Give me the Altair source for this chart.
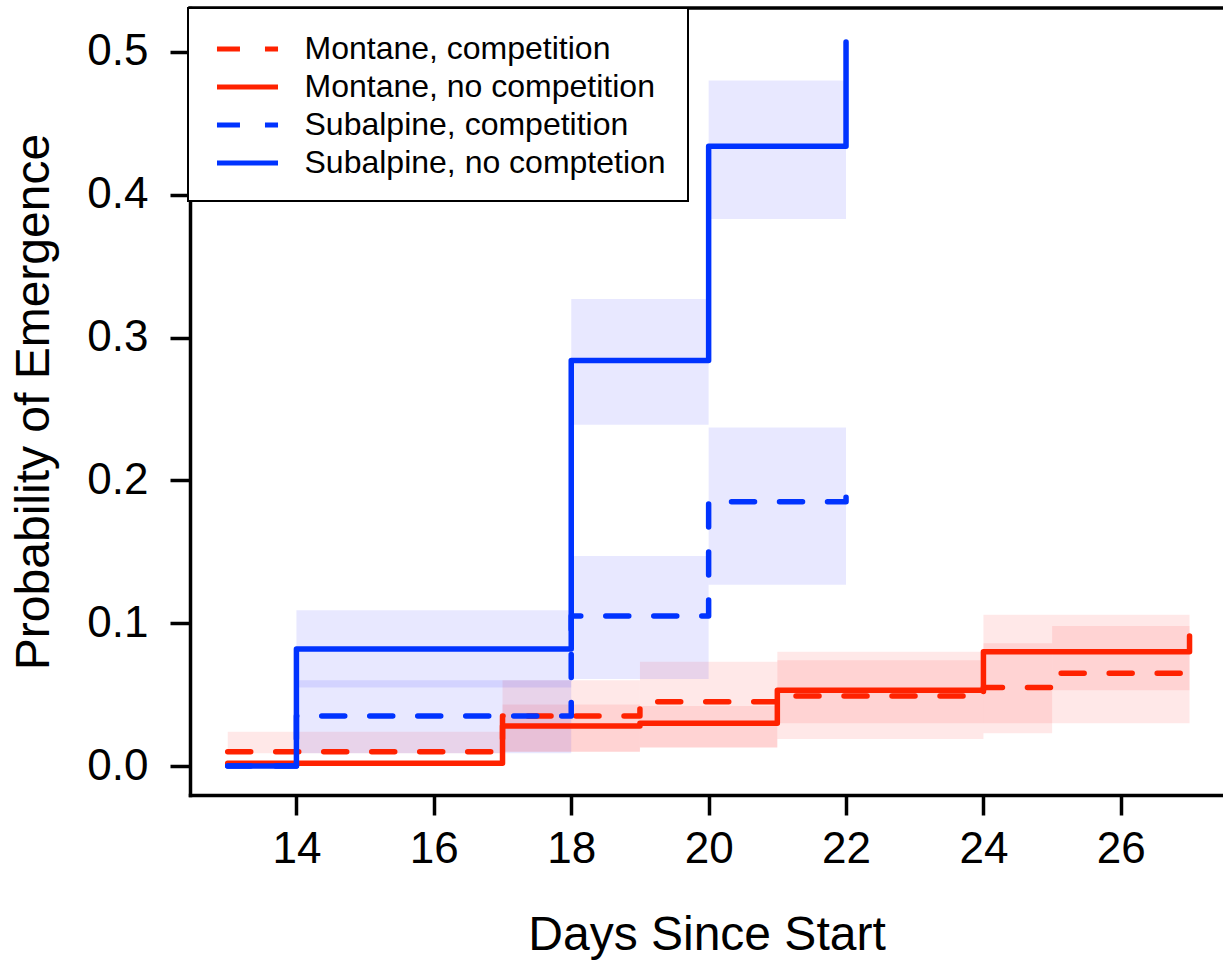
import altair as alt
import pandas as pd

FONT = "Liberation Sans"

series_names = [
    "Montane, competition",
    "Montane, no competition",
    "Subalpine, competition",
    "Subalpine, no comptetion",
]
series_sites = ["Montane", "Montane", "Subalpine", "Subalpine"]
line_colors = ["#ff2200", "#ff2200", "#0033ff", "#0033ff"]
line_dashes = [[23, 25], [1, 0], [23, 25], [1, 0]]
site_names = ["Montane", "Subalpine"]
band_colors = ["#ff0000", "#0000ff"]

# Step curves: day at which each step starts and the probability after it
montane_comp_days = [13, 17, 19, 21, 24, 25, 27]
montane_comp_prob = [0.010, 0.035, 0.045, 0.049, 0.055, 0.065, 0.067]
montane_nocomp_days = [13, 17, 19, 21, 24, 27]
montane_nocomp_prob = [0.002, 0.028, 0.030, 0.053, 0.080, 0.091]
subalpine_comp_days = [13, 14, 18, 20, 22]
subalpine_comp_prob = [0.0, 0.035, 0.105, 0.185, 0.195]
subalpine_nocomp_days = [13, 14, 18, 20, 22]
subalpine_nocomp_prob = [0.0, 0.082, 0.284, 0.434, 0.507]

# Confidence bands: interval start, interval end, lower and upper bound
montane_comp_band_start = [13, 17, 19, 21, 24, 25]
montane_comp_band_end = [17, 19, 21, 24, 25, 27]
montane_comp_band_lo = [0.009, 0.010, 0.013, 0.019, 0.023, 0.053]
montane_comp_band_hi = [0.024, 0.060, 0.073, 0.074, 0.086, 0.098]

montane_nocomp_band_start = [17, 19, 21, 24]
montane_nocomp_band_end = [19, 21, 24, 27]
montane_nocomp_band_lo = [0.010, 0.013, 0.030, 0.030]
montane_nocomp_band_hi = [0.043, 0.042, 0.080, 0.106]

subalpine_comp_band_start = [14, 18, 20]
subalpine_comp_band_end = [18, 20, 22]
subalpine_comp_band_lo = [0.009, 0.061, 0.127]
subalpine_comp_band_hi = [0.060, 0.147, 0.237]

subalpine_nocomp_band_start = [14, 18, 20]
subalpine_nocomp_band_end = [18, 20, 22]
subalpine_nocomp_band_lo = [0.055, 0.239, 0.383]
subalpine_nocomp_band_hi = [0.109, 0.327, 0.480]

x_ticks = [14, 16, 18, 20, 22, 24, 26]
y_ticks = [0.0, 0.1, 0.2, 0.3, 0.4, 0.5]
x_limits = [12.451, 27.487]
y_limits = [-0.0203, 0.5308]

curves = [
    (series_names[0], montane_comp_days, montane_comp_prob),
    (series_names[1], montane_nocomp_days, montane_nocomp_prob),
    (series_names[2], subalpine_comp_days, subalpine_comp_prob),
    (series_names[3], subalpine_nocomp_days, subalpine_nocomp_prob),
]
bands = [
    (series_sites[0], montane_comp_band_start, montane_comp_band_end,
     montane_comp_band_lo, montane_comp_band_hi),
    (series_sites[1], montane_nocomp_band_start, montane_nocomp_band_end,
     montane_nocomp_band_lo, montane_nocomp_band_hi),
    (series_sites[2], subalpine_comp_band_start, subalpine_comp_band_end,
     subalpine_comp_band_lo, subalpine_comp_band_hi),
    (series_sites[3], subalpine_nocomp_band_start, subalpine_nocomp_band_end,
     subalpine_nocomp_band_lo, subalpine_nocomp_band_hi),
]

line_rows = []
for name, days, probs in curves:
    for d, p in zip(days, probs):
        line_rows.append({"series": name, "day": d, "prob": p})
line_df = pd.DataFrame(line_rows)

band_rows = []
for site, starts, ends, los, his in bands:
    for s, e, lo, hi in zip(starts, ends, los, his):
        band_rows.append({"site": site, "start": s, "end": e, "lo": lo, "hi": hi})
band_df = pd.DataFrame(band_rows)

x_scale = alt.Scale(domain=x_limits, nice=False, zero=False)
y_scale = alt.Scale(domain=y_limits, nice=False, zero=False)

axis_common = dict(
    grid=False,
    domainColor="black",
    domainWidth=3.5,
    domainCap="square",
    tickColor="black",
    tickWidth=3.5,
    tickSize=20,
    labelFont=FONT,
    labelColor="black",
    titleFont=FONT,
    titleColor="black",
    titleFontWeight="normal",
    labelFlush=False,
    labelOverlap=False,
)

x_axis = alt.Axis(
    values=x_ticks,
    format="d",
    labelFontSize=44,
    labelPadding=12,
    title="Days Since Start",
    titleFontSize=48,
    titlePadding=40,
    **axis_common,
)
y_axis = alt.Axis(
    values=y_ticks,
    format=".1f",
    labelFontSize=44,
    labelPadding=22,
    title="Probability of Emergence",
    titleFontSize=48,
    titlePadding=28,
    **axis_common,
)

legend_kw = dict(
    title=None,
    orient="none",
    legendX=-2,
    legendY=0,
    symbolType="M-1.85,0H1.85",
    symbolSize=1089,
    symbolStrokeWidth=5,
    symbolOffset=18.5,
    labelOffset=38,
    labelFontSize=32,
    labelFont=FONT,
    labelColor="black",
    labelLimit=600,
    padding=22,
    rowPadding=3,
    strokeColor="black",
    fillColor="white",
    cornerRadius=0,
)

band_layer = alt.Chart(band_df).mark_rect(opacity=0.09).encode(
    x=alt.X("start:Q", scale=x_scale, axis=x_axis),
    x2="end:Q",
    y=alt.Y("lo:Q", scale=y_scale, axis=y_axis),
    y2="hi:Q",
    fill=alt.Fill(
        "site:N",
        scale=alt.Scale(domain=site_names, range=band_colors),
        legend=None,
    ),
)

line_layer = alt.Chart(line_df).mark_line(
    interpolate="step-after",
    strokeWidth=5.5,
    strokeCap="round",
    strokeJoin="round",
).encode(
    x=alt.X("day:Q", scale=x_scale, axis=x_axis),
    y=alt.Y("prob:Q", scale=y_scale, axis=y_axis),
    color=alt.Color(
        "series:N",
        scale=alt.Scale(domain=series_names, range=line_colors),
        legend=alt.Legend(**legend_kw),
    ),
    strokeDash=alt.StrokeDash(
        "series:N",
        scale=alt.Scale(domain=series_names, range=line_dashes),
        legend=alt.Legend(**legend_kw),
    ),
)

# upper edge of the plot frame, along the top of the y range
frame_top = alt.Chart(pd.DataFrame({"k": [0]})).mark_rule(
    color="black", strokeWidth=3.5, strokeCap="square"
).encode(
    x=alt.datum(x_limits[0], scale=x_scale),
    x2=alt.datum(x_limits[1]),
    y=alt.datum(y_limits[1], scale=y_scale),
)

chart = (
    alt.layer(band_layer, line_layer, frame_top)
    .properties(
        width=1033,
        height=787,
        autosize=alt.AutoSizeParams(type="none"),
        padding={"left": 190, "top": 8, "right": 0, "bottom": 165},
    )
    .configure_view(stroke=None)
    .configure_legend(strokeWidth=2)
)

chart.save("out.html", embed_options={"renderer": "svg", "actions": False})
